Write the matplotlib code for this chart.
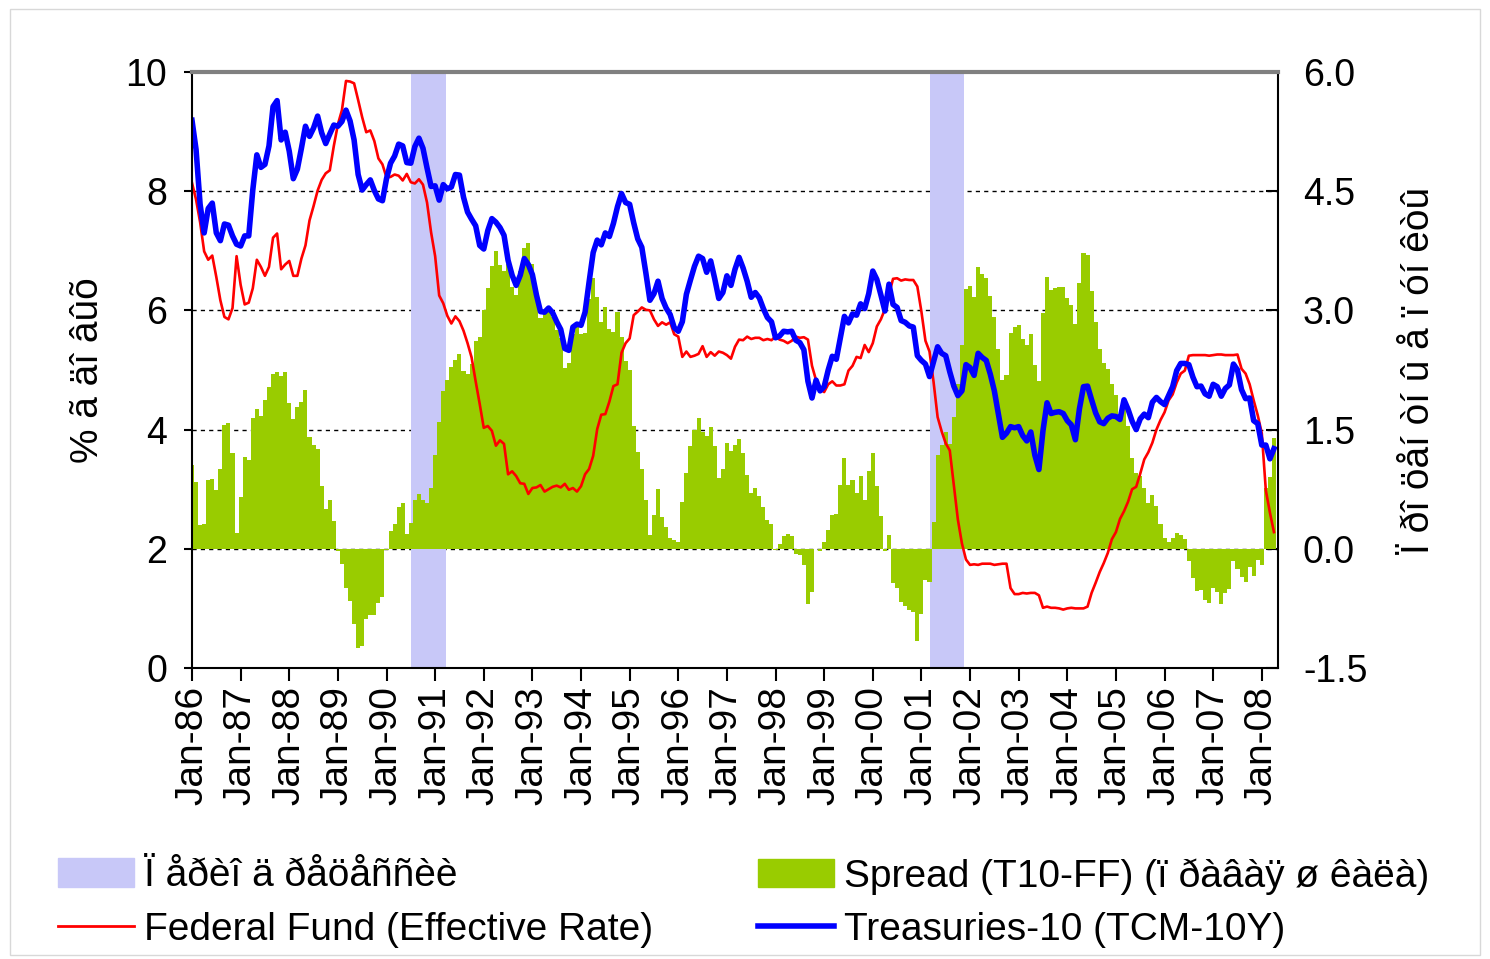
import numpy as np
import matplotlib
matplotlib.use("Agg")
import matplotlib.pyplot as plt
from matplotlib.patches import Patch, Rectangle
from matplotlib.lines import Line2D

plt.rcParams['font.family'] = ['Liberation Sans', 'DejaVu Sans']

# monthly data, Jan-1986 .. Apr-2008
# Federal funds effective rate, %
ff = [
    8.14, 7.86, 7.48, 6.99, 6.85, 6.92, 6.56, 6.17, 5.89, 5.85, 6.04, 6.91,  # 1986
    6.43, 6.10, 6.13, 6.37, 6.85, 6.73, 6.58, 6.73, 7.22, 7.29, 6.69, 6.77,  # 1987
    6.83, 6.58, 6.58, 6.87, 7.09, 7.51, 7.75, 8.01, 8.19, 8.30, 8.35, 8.76,  # 1988
    9.12, 9.36, 9.85, 9.84, 9.81, 9.53, 9.24, 8.99, 9.02, 8.84, 8.55, 8.45,  # 1989
    8.23, 8.24, 8.28, 8.26, 8.18, 8.29, 8.15, 8.13, 8.20, 8.11, 7.81, 7.31,  # 1990
    6.91, 6.25, 6.12, 5.91, 5.78, 5.90, 5.82, 5.66, 5.45, 5.21, 4.81, 4.43,  # 1991
    4.03, 4.06, 3.98, 3.73, 3.82, 3.76, 3.25, 3.30, 3.22, 3.10, 3.09, 2.92,  # 1992
    3.02, 3.03, 3.07, 2.96, 3.00, 3.04, 3.06, 3.03, 3.09, 2.99, 3.02, 2.96,  # 1993
    3.05, 3.25, 3.34, 3.56, 4.01, 4.25, 4.26, 4.47, 4.73, 4.76, 5.29, 5.45,  # 1994
    5.53, 5.92, 5.98, 6.05, 6.01, 6.00, 5.85, 5.74, 5.80, 5.76, 5.80, 5.60,  # 1995
    5.56, 5.22, 5.31, 5.22, 5.24, 5.27, 5.40, 5.22, 5.30, 5.24, 5.31, 5.29,  # 1996
    5.25, 5.19, 5.39, 5.51, 5.50, 5.56, 5.52, 5.54, 5.54, 5.50, 5.52, 5.50,  # 1997
    5.56, 5.51, 5.49, 5.45, 5.49, 5.56, 5.54, 5.55, 5.51, 5.07, 4.83, 4.68,  # 1998
    4.63, 4.76, 4.81, 4.74, 4.74, 4.76, 4.99, 5.07, 5.22, 5.20, 5.42, 5.30,  # 1999
    5.45, 5.73, 5.85, 6.02, 6.27, 6.53, 6.54, 6.50, 6.52, 6.51, 6.51, 6.40,  # 2000
    5.98, 5.49, 5.31, 4.80, 4.21, 3.97, 3.77, 3.65, 3.07, 2.49, 2.09, 1.82,  # 2001
    1.73, 1.74, 1.73, 1.75, 1.75, 1.75, 1.73, 1.74, 1.75, 1.75, 1.34, 1.24,  # 2002
    1.24, 1.26, 1.25, 1.26, 1.26, 1.22, 1.01, 1.03, 1.01, 1.01, 1.00, 0.98,  # 2003
    1.00, 1.01, 1.00, 1.00, 1.00, 1.03, 1.26, 1.43, 1.61, 1.76, 1.93, 2.16,  # 2004
    2.28, 2.50, 2.63, 2.79, 3.00, 3.04, 3.26, 3.50, 3.62, 3.78, 4.00, 4.16,  # 2005
    4.29, 4.49, 4.59, 4.79, 4.94, 4.99, 5.24, 5.25, 5.25, 5.25, 5.25, 5.24,  # 2006
    5.25, 5.26, 5.26, 5.25, 5.25, 5.25, 5.26, 5.02, 4.94, 4.76, 4.49, 4.24,  # 2007
    3.94, 2.98, 2.61, 2.28,                                                  # 2008
]

# 10-year treasury constant maturity, %
t10 = [
    9.19, 8.70, 7.78, 7.30, 7.71, 7.80, 7.30, 7.17, 7.45, 7.43, 7.25, 7.11,  # 1986
    7.08, 7.25, 7.25, 8.02, 8.61, 8.40, 8.45, 8.76, 9.42, 9.52, 8.86, 8.99,  # 1987
    8.67, 8.21, 8.37, 8.72, 9.09, 8.92, 9.06, 9.26, 8.98, 8.80, 8.96, 9.11,  # 1988
    9.09, 9.17, 9.36, 9.18, 8.86, 8.28, 8.02, 8.11, 8.19, 8.01, 7.87, 7.84,  # 1989
    8.21, 8.47, 8.59, 8.79, 8.76, 8.48, 8.47, 8.75, 8.89, 8.72, 8.39, 8.08,  # 1990
    8.09, 7.85, 8.11, 8.04, 8.07, 8.28, 8.27, 7.90, 7.65, 7.53, 7.42, 7.09,  # 1991
    7.03, 7.34, 7.54, 7.48, 7.39, 7.26, 6.84, 6.59, 6.42, 6.59, 6.87, 6.77,  # 1992
    6.60, 6.26, 5.98, 5.97, 6.04, 5.96, 5.81, 5.68, 5.36, 5.33, 5.72, 5.77,  # 1993
    5.75, 5.97, 6.48, 6.97, 7.18, 7.10, 7.30, 7.24, 7.46, 7.74, 7.96, 7.81,  # 1994
    7.78, 7.47, 7.20, 7.06, 6.63, 6.17, 6.28, 6.49, 6.20, 6.04, 5.93, 5.71,  # 1995
    5.65, 5.81, 6.27, 6.51, 6.74, 6.91, 6.87, 6.64, 6.83, 6.53, 6.20, 6.30,  # 1996
    6.58, 6.42, 6.69, 6.89, 6.71, 6.49, 6.22, 6.30, 6.21, 6.03, 5.88, 5.81,  # 1997
    5.54, 5.57, 5.65, 5.64, 5.65, 5.50, 5.46, 5.34, 4.81, 4.53, 4.83, 4.65,  # 1998
    4.72, 5.00, 5.23, 5.18, 5.54, 5.90, 5.79, 5.94, 5.92, 6.11, 6.03, 6.28,  # 1999
    6.66, 6.52, 6.26, 5.99, 6.44, 6.10, 6.05, 5.83, 5.80, 5.74, 5.72, 5.24,  # 2000
    5.16, 5.10, 4.89, 5.14, 5.39, 5.28, 5.24, 4.97, 4.73, 4.57, 4.65, 5.09,  # 2001
    5.04, 4.91, 5.28, 5.21, 5.16, 4.93, 4.65, 4.26, 3.87, 3.94, 4.05, 4.03,  # 2002
    4.05, 3.90, 3.81, 3.96, 3.57, 3.33, 3.98, 4.45, 4.27, 4.29, 4.30, 4.27,  # 2003
    4.15, 4.08, 3.83, 4.35, 4.72, 4.73, 4.50, 4.28, 4.13, 4.10, 4.19, 4.23,  # 2004
    4.22, 4.17, 4.50, 4.34, 4.14, 4.00, 4.18, 4.26, 4.20, 4.46, 4.54, 4.47,  # 2005
    4.42, 4.57, 4.72, 4.99, 5.11, 5.11, 5.09, 4.88, 4.72, 4.73, 4.60, 4.56,  # 2006
    4.76, 4.72, 4.56, 4.69, 4.75, 5.10, 5.00, 4.67, 4.52, 4.53, 4.15, 4.10,  # 2007
    3.74, 3.74, 3.51, 3.68,                                                  # 2008
]

tick_labels = ["Jan-86", "Jan-87", "Jan-88", "Jan-89", "Jan-90", "Jan-91",
               "Jan-92", "Jan-93", "Jan-94", "Jan-95", "Jan-96", "Jan-97",
               "Jan-98", "Jan-99", "Jan-00", "Jan-01", "Jan-02", "Jan-03",
               "Jan-04", "Jan-05", "Jan-06", "Jan-07", "Jan-08"]

# recessions (first month, last month)
recessions = [((1990, 7), (1991, 3)), ((2001, 3), (2001, 11))]

left_ticks = [0, 2, 4, 6, 8, 10]
right_ticks = [-1.5, 0.0, 1.5, 3.0, 4.5, 6.0]

left_label = "% ã äî âûõ"
right_label = "Ï ðî öåí òí û å ï óí êòû"
rec_label = "Ï åðèî ä ðåöåññèè"
spread_label = "Spread (T10-FF) (ï ðàâàÿ ø êàëà)"
ff_label = "Federal Fund (Effective Rate)"
t10_label = "Treasuries-10 (TCM-10Y)"

band_color = "#C8C8F8"
green = "#99CC00"


def month_idx(ym):
    return (ym[0] - 1986) * 12 + ym[1] - 1


ff = np.array(ff)
t10 = np.array(t10)
x = np.arange(len(ff))
spread = t10 - ff

W, H = 1490, 959
fig = plt.figure(figsize=(W / 100, H / 100), dpi=100)
fig.patches.append(Rectangle((10 / W, 4 / H), 1470 / W, 946 / H, transform=fig.transFigure,
                             fill=False, edgecolor="#d8d8d8", lw=1))

ax = fig.add_axes([192 / W, 1 - 668 / H, (1278 - 192) / W, (668 - 72) / H])
ax.set_xlim(0, 268)
ax.set_ylim(-1.5, 6.0)
ax.set_yticks(right_ticks)
ax.set_yticklabels(["%.1f" % v for v in right_ticks])
ax.grid(axis="y", linestyle=(0, (3, 3)), color="black", lw=1)
ax.set_axisbelow(True)

for s, e in recessions:
    ax.axvspan(month_idx(s), month_idx(e) + 0.6, color=band_color, lw=0, zorder=1)
ax.bar(x, spread, width=1.0, color=green, linewidth=0, zorder=2)

ax.set_xticks(x[::12])
ax.set_xticklabels(tick_labels)

ax2 = ax.twinx()
ax2.plot(x, ff, color="#FF0000", lw=1.9)
ax2.plot(x, t10, color="#0000FF", lw=4.0)
ax2.set_ylim(0, 10)
ax2.set_yticks(left_ticks)

ax.yaxis.tick_right()
ax.yaxis.set_label_position("right")
ax2.yaxis.tick_left()
ax2.yaxis.set_label_position("left")

for sp in ax.spines.values():
    sp.set_visible(False)
ax2.spines["top"].set_color("#808080")
ax2.spines["top"].set_linewidth(3)
for k in ["left", "right", "bottom"]:
    ax2.spines[k].set_color("black")
    ax2.spines[k].set_linewidth(1.5)

ax.tick_params(axis="x", direction="out", length=9, width=1.5, labelsize=28, pad=4,
               labelrotation=90)
ax.tick_params(axis="y", direction="in", length=9, width=1.5, labelsize=27, pad=18)
ax2.tick_params(axis="y", direction="out", length=6, width=1.5, labelsize=27, pad=12)

ax2.set_ylabel(left_label, fontsize=28, labelpad=14)
ax.set_ylabel(right_label, fontsize=28, labelpad=24)

leg_kw = dict(loc="upper left", frameon=False, fontsize=28, handlelength=1.95,
              handleheight=0.75, handletextpad=0.25, labelspacing=0.45,
              borderaxespad=0, borderpad=0)
fig.legend([Patch(color=band_color), Line2D([], [], color="#FF0000", lw=2)],
           [rec_label, ff_label], bbox_to_anchor=(58 / W, 1 - 858 / H), **leg_kw)
fig.legend([Patch(color=green), Line2D([], [], color="#0000FF", lw=4)],
           [spread_label, t10_label], bbox_to_anchor=(758 / W, 1 - 858 / H), **leg_kw)

fig.savefig("out.png", dpi=100)
